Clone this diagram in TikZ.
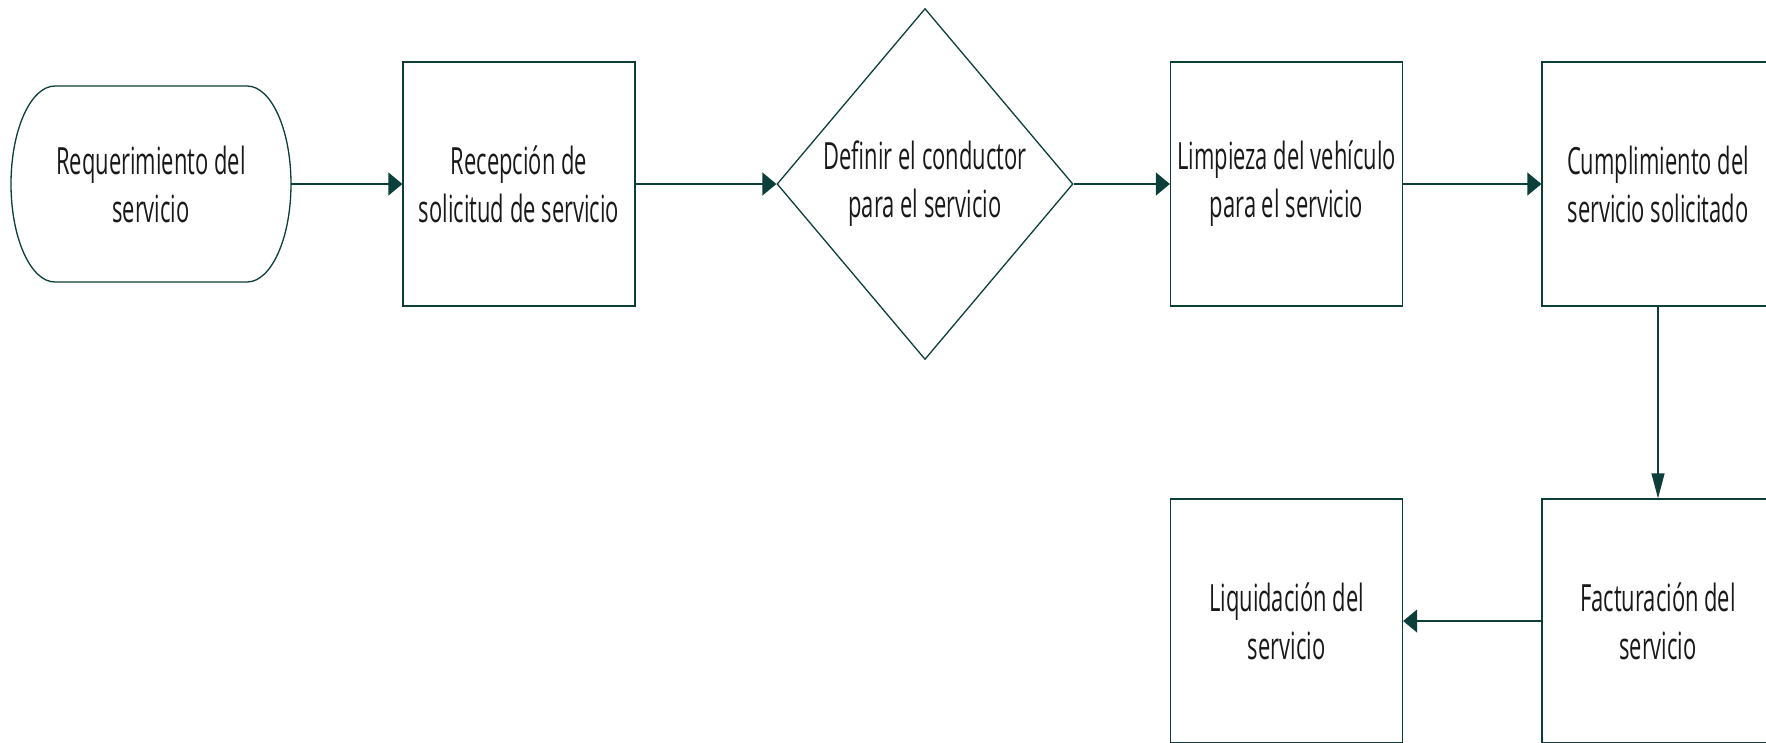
\documentclass[tikz,border=0pt]{standalone}
\usepackage{fontspec}
\setmainfont{Open Sans}[FakeStretch=0.585]
\usetikzlibrary{arrows.meta,shapes.geometric}
\definecolor{flowline}{RGB}{12,62,58}
\definecolor{flowtext}{RGB}{25,25,25}
\tikzset{
  labelfont/.style={font=\fontsize{37.5}{48}\selectfont},
  proc/.style={draw=flowline, line width=1.3pt, fill=white, rectangle,
    minimum width=232pt, minimum height=244pt, inner sep=0pt,
    align=center, text=flowtext, labelfont},
  decision/.style={draw=flowline, line width=1.3pt, fill=white, diamond,
    minimum width=296pt, minimum height=351pt, inner sep=0pt, shape aspect=0.84,
    align=center, text=flowtext, labelfont},
  termtext/.style={inner sep=0pt, minimum width=280pt, minimum height=196pt,
    align=center, text=flowtext, labelfont},
  hflow/.style={draw=flowline, line width=1.3pt,
    -{Triangle[length=14pt,width=23pt]}, fill=flowline},
  vflow/.style={draw=flowline, line width=1.3pt,
    -{Triangle[length=25pt,width=13pt]}, fill=flowline},
}
\begin{document}
\begin{tikzpicture}[x=1pt,y=-1pt]
\useasboundingbox (0,0) rectangle (1766,742);

% start terminal: flat top and bottom, half-elliptic ends
\draw[draw=flowline, line width=1.3pt, fill=white]
  (55,86) -- (247,86)
  arc[start angle=-90, end angle=90, x radius=44, y radius=98]
  -- (55,282)
  arc[start angle=90, end angle=270, x radius=44, y radius=98]
  -- cycle;
\node[termtext] (req) at (151,184) {Requerimiento del\\servicio};

\node[proc] (recep) at (519,184) {Recepción de\\solicitud de servicio};
\node[decision] (cond) at (925,184) {Definir el conductor\\para el servicio};
\node[proc] (limp) at (1286.5,184) {Limpieza del vehículo\\para el servicio};
\node[proc] (cump) at (1658,184) {Cumplimiento del\\servicio solicitado};
\node[proc] (fact) at (1658,621) {Facturación del\\servicio};
\node[proc] (liq) at (1286.5,621) {Liquidación del\\servicio};

\draw[hflow] (req.east) -- (recep.west);
\draw[hflow] (recep.east) -- (cond.west);
\draw[hflow] (cond.east) -- (limp.west);
\draw[hflow] (limp.east) -- (cump.west);
\draw[vflow] (cump.south) -- (fact.north);
\draw[hflow] (fact.west) -- (liq.east);
\end{tikzpicture}
\end{document}
